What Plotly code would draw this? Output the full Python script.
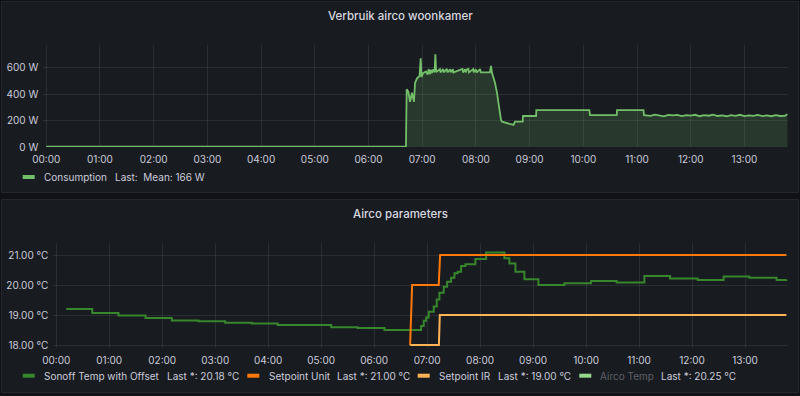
import plotly.graph_objects as go

DAY = "2021-07-10 "
X_RANGE = ["2021-07-09 23:56:40", "2021-07-10 13:49:00"]

# ---------------- Panel 1: consumption (W) ----------------
cons_time = [
    "00:00:00", "06:41:50", "06:42:40", "06:44:28", "06:46:23", "06:48:36", "06:50:49",
    "06:51:58", "06:54:11", "06:57:00", "06:58:19", "06:59:13", "07:00:54", "07:04:12",
    "07:06:00", "07:07:12", "07:08:24", "07:09:36", "07:10:48", "07:12:00", "07:13:48",
    "07:14:42", "07:15:36", "07:19:48", "07:20:24", "07:23:24", "07:24:00", "07:27:36",
    "07:28:12", "07:31:12", "07:31:48", "07:34:12", "07:34:48", "07:45:00", "07:45:36",
    "07:48:00", "07:48:36", "07:49:48", "07:51:36", "07:52:12", "07:57:00", "07:57:36",
    "08:00:00", "08:00:36", "08:04:48", "08:05:24", "08:15:36", "08:16:52", "08:18:00",
    "08:21:22", "08:23:35", "08:25:48", "08:28:01", "08:29:10", "08:34:26", "08:42:00",
    "08:43:41", "08:52:16", "08:52:37", "09:07:12", "09:07:30", "10:06:43", "10:07:30",
    "10:37:19", "10:37:41", "11:07:12", "11:07:48", "11:15:00", "11:20:00", "11:25:00",
    "11:30:00", "11:35:00", "11:40:00", "11:45:00", "11:50:00", "11:55:00", "12:00:00",
    "12:05:00", "12:10:00", "12:15:00", "12:20:00", "12:25:00", "12:30:00", "12:35:00",
    "12:40:00", "12:45:00", "12:50:00", "12:55:00", "13:00:00", "13:05:00", "13:10:00",
    "13:15:00", "13:20:00", "13:25:00", "13:30:00", "13:35:00", "13:40:00", "13:45:00",
    "13:48:00",
]
cons_watt = [
    3, 3, 437, 419, 343, 411, 343,
    485, 520, 538, 672, 530, 560, 572,
    548, 590, 552, 585, 560, 588, 565,
    702, 568, 590, 565, 590, 565, 592,
    565, 588, 566, 590, 565, 592, 565,
    590, 565, 588, 592, 565, 590, 566,
    588, 565, 590, 565, 566, 614, 560,
    485, 409, 305, 205, 192, 180, 167,
    192, 192, 235, 235, 280, 280, 242,
    242, 280, 280, 242, 236, 245, 240,
    232, 243, 240, 244, 234, 242, 238,
    244, 233, 241, 237, 245, 235, 240,
    233, 242, 236, 244, 234, 240, 236,
    243, 234, 240, 233, 241, 235, 236,
    248,
]
w_tickvals = [0, 200, 400, 600]
w_ticktext = ["0 W", "200 W", "400 W", "600 W"]

# ---------------- Panel 2: airco parameters (°C) ----------------
sonoff_time = [
    "00:11:20", "00:40:45", "01:10:30", "01:41:05", "02:10:52", "02:41:05", "03:11:20",
    "03:41:27", "04:10:52", "05:11:20", "05:41:27", "06:11:40", "06:53:13", "06:56:10",
    "06:58:52", "07:01:48", "07:07:30", "07:10:52", "07:13:55", "07:18:47", "07:22:38",
    "07:27:10", "07:30:55", "07:34:38", "07:38:30", "07:43:23", "07:54:40", "08:06:48",
    "08:27:30", "08:33:10", "08:40:00", "08:50:10", "09:06:00", "09:35:27", "10:05:40",
    "10:34:37", "11:06:00", "11:35:06", "12:06:22", "12:35:46", "13:04:52", "13:35:46",
    "13:46:45",
]
sonoff_temp = [
    19.20, 19.07, 18.98, 18.90, 18.82, 18.79, 18.74,
    18.72, 18.67, 18.59, 18.57, 18.50, 18.63, 18.81,
    18.92, 19.11, 19.28, 19.52, 19.74, 19.94, 20.11,
    20.24, 20.39, 20.44, 20.63, 20.69, 20.87, 21.08,
    20.89, 20.72, 20.44, 20.19, 20.00, 20.06, 20.13,
    20.08, 20.30, 20.22, 20.17, 20.28, 20.24, 20.17,
    20.18,
]
unit_time = ["06:40:45", "06:43:00", "07:13:08", "07:14:42", "13:46:45"]
unit_temp = [18.0, 20.0, 20.0, 21.0, 21.0]
ir_time = ["06:40:45", "07:13:20", "07:14:20", "13:46:45"]
ir_temp = [18.0, 18.0, 19.0, 19.0]
c_tickvals = [18, 19, 20, 21]
c_ticktext = ["18.00 °C", "19.00 °C", "20.00 °C", "21.00 °C"]

titles = ["Verbruik airco woonkamer", "Airco parameters"]
legend1 = [("Consumption", "Last:  Mean: 166 W", "#73BF69", False)]
legend2 = [
    ("Sonoff Temp with Offset", "Last *: 20.18 °C", "#37872D", False),
    ("Setpoint Unit", "Last *: 21.00 °C", "#FF780A", False),
    ("Setpoint IR", "Last *: 19.00 °C", "#FFB357", False),
    ("Airco Temp", "Last *: 20.25 °C", "#96D98D", True),
]

# ---------------- styling ----------------
W, H = 800, 396
PAGE_BG = "#111217"
PANEL_BG = "#181b1f"
BORDER = "#25272c"
TXT = "#ccccdc"
GRID = "rgba(204,204,220,0.10)"
FONT = "Inter"


def px(x):
    return x / W


def py(y):
    return 1 - y / H


fig = go.Figure()

fig.add_trace(go.Scatter(
    x=[DAY + t for t in cons_time], y=cons_watt, mode="lines",
    line=dict(color="#73BF69", width=1.8), fill="tozeroy",
    fillcolor="rgba(115,191,105,0.18)", xaxis="x", yaxis="y", showlegend=False,
))
fig.add_trace(go.Scatter(
    x=[DAY + t for t in sonoff_time], y=sonoff_temp, mode="lines",
    line=dict(color="#37872D", width=2, shape="hv"), xaxis="x2", yaxis="y2", showlegend=False,
))
fig.add_trace(go.Scatter(
    x=[DAY + t for t in unit_time], y=unit_temp, mode="lines",
    line=dict(color="#FF780A", width=2), xaxis="x2", yaxis="y2", showlegend=False,
))
fig.add_trace(go.Scatter(
    x=[DAY + t for t in ir_time], y=ir_temp, mode="lines",
    line=dict(color="#FFB357", width=2), xaxis="x2", yaxis="y2", showlegend=False,
))

axfont = dict(family=FONT, size=10, color=TXT)
xcommon = dict(type="date", range=X_RANGE, tickformat="%H:%M", dtick=3600000,
               tick0="2021-07-10 00:00", showgrid=True, gridcolor=GRID, gridwidth=1,
               zeroline=False, showline=False, ticks="", tickfont=axfont,
               ticklabelstandoff=5, fixedrange=True, automargin=False)
ycommon = dict(showgrid=True, gridcolor=GRID, gridwidth=1, zeroline=False,
               showline=False, ticks="", tickfont=axfont, ticklabelstandoff=4,
               fixedrange=True, automargin=False)

fig.update_layout(
    width=W, height=H, margin=dict(l=0, r=0, t=0, b=0, autoexpand=False),
    paper_bgcolor=PAGE_BG, plot_bgcolor="rgba(0,0,0,0)",
    font=dict(family=FONT, color=TXT, size=10),
    xaxis=dict(domain=[px(43.3), px(788.3)], anchor="y", **xcommon),
    yaxis=dict(domain=[py(147), py(45)], anchor="x", range=[0, 773],
               tickvals=w_tickvals, ticktext=w_ticktext, **ycommon),
    xaxis2=dict(domain=[px(53.3), px(788.3)], anchor="y2", **xcommon),
    yaxis2=dict(domain=[py(347.7), py(243)], anchor="x2", range=[17.91, 21.4],
                tickvals=c_tickvals, ticktext=c_ticktext, **ycommon),
    showlegend=False,
    hovermode=False,
)

shapes = []
annotations = []
# panels
for (y0, y1) in [(1.5, 192.5), (199.5, 392.5)]:
    shapes.append(dict(type="rect", xref="paper", yref="paper", layer="below",
                       x0=px(1.5), x1=px(798.5), y0=py(y1), y1=py(y0),
                       fillcolor=PANEL_BG, line=dict(color=BORDER, width=1)))
# titles
for title, ty in zip(titles, [16, 214]):
    annotations.append(dict(text=title, xref="paper", yref="paper", x=0.5, y=py(ty),
                            xanchor="center", yanchor="middle", showarrow=False,
                            font=dict(family=FONT, size=11.5, color="#d8d9e0", weight=500)))

# legends (positions in px)
leg1_pos = [(22.7, 41.7, 112.7)]
leg2_pos = [(22.7, 41.7, 165), (247.3, 266.7, 335), (417.7, 437.3, 496), (579.3, 598.3, 659)]
for items, poss, ly in [(legend1, leg1_pos, 177), (legend2, leg2_pos, 375.7)]:
    for (name, stat, color, hidden), (sx, nx, vx) in zip(items, poss):
        shapes.append(dict(type="rect", xref="paper", yref="paper", layer="above",
                           x0=px(sx), x1=px(sx + 12), y0=py(ly + 2), y1=py(ly - 2),
                           fillcolor=color, line=dict(width=0)))
        annotations.append(dict(text=name, xref="paper", yref="paper", x=px(nx), y=py(ly),
                                xanchor="left", yanchor="middle", showarrow=False,
                                font=dict(family=FONT, size=10,
                                          color="rgba(204,204,220,0.4)" if hidden else TXT)))
        annotations.append(dict(text=stat, xref="paper", yref="paper", x=px(vx), y=py(ly),
                                xanchor="left", yanchor="middle", showarrow=False,
                                font=dict(family=FONT, size=10, color=TXT)))

fig.update_layout(shapes=shapes, annotations=annotations)
fig.write_html("out.html", config={"displayModeBar": False},
               post_script="document.body.style.margin='0';document.body.style.overflow='hidden';")
